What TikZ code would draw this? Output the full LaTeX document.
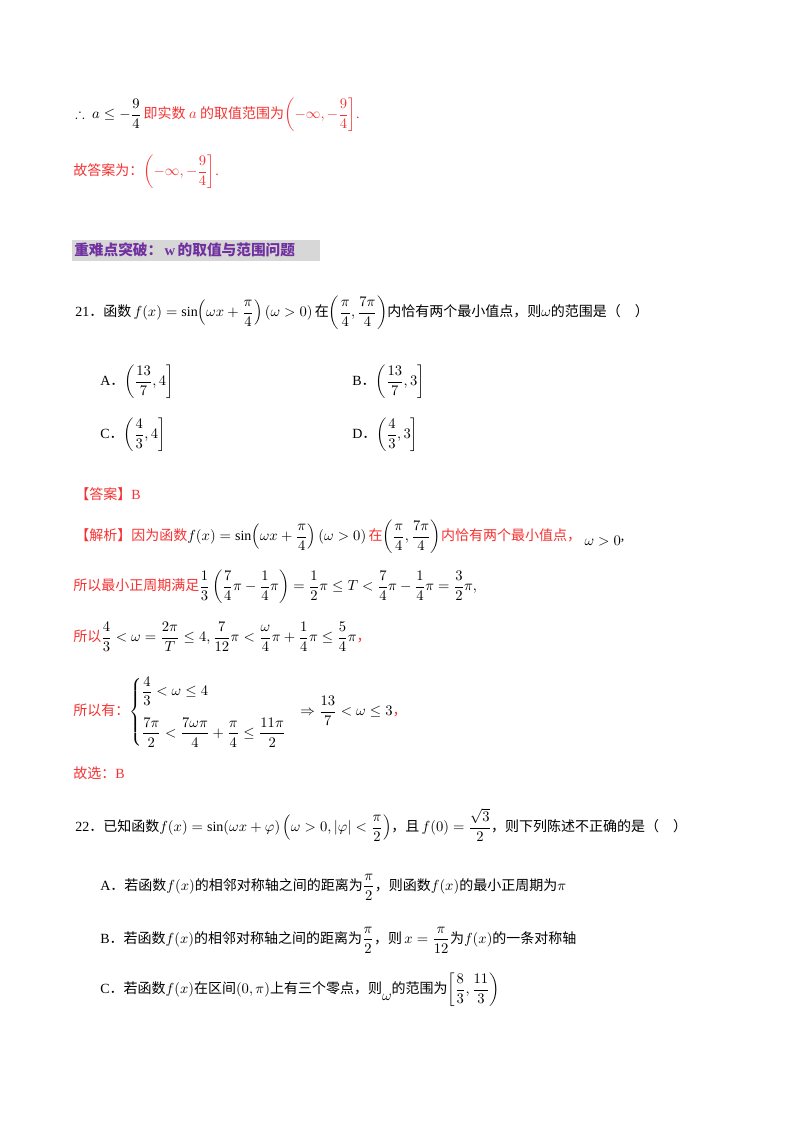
\documentclass[tikz,border=0pt]{standalone}
\usepackage{amsmath,amssymb}
\usepackage{fontspec}
\setmainfont{Liberation Serif}
\newfontfamily\zhf{Noto Sans CJK SC}
\newcommand{\zh}[1]{{\zhf #1}}
\definecolor{ans}{RGB}{245,50,50}
\definecolor{hd}{RGB}{112,48,160}
\definecolor{hdbg}{RGB}{215,215,215}
\tikzset{ln/.style={anchor=west,inner sep=0pt,font=\fontsize{10.5}{13}\selectfont}}
\begin{document}
\begin{tikzpicture}[x=0.75pt,y=-0.75pt]
\useasboundingbox[fill=white] (0,0) rectangle (800,1132);
\node[ln] (l1) at (75,115) {$\therefore\ a\le-\dfrac{9}{4}$\,\textcolor{ans}{\zh{即实数} $a$ \zh{的取值范围为}$\left(-\infty,-\dfrac94\right]$.}};
\node[ln,text=ans] (l2) at (73,172) {\zh{故答案为：}$\left(-\infty,-\dfrac94\right]$.};
\fill[hdbg] (72,240) rectangle (320,261);
\node[ln,text=hd,font=\fontsize{11}{13}\bfseries\selectfont] (hdr) at (74,250) {\zh{重难点突破：}\,w\,\zh{的取值与范围问题}};
\node[ln] (q21) at (75,313) {21\zh{．函数}\,$f(x)=\sin\!\left(\omega x+\dfrac{\pi}{4}\right)(\omega>0)$\,\zh{在}$\left(\dfrac{\pi}{4},\dfrac{7\pi}{4}\right)$\zh{内恰有两个最小值点，则}$\omega$\zh{的范围是（\quad ）}};
\node[ln] (a21) at (100,382) {A\zh{．}$\left(\dfrac{13}{7},4\right]$};
\node[ln] (b21) at (352,382) {B\zh{．}$\left(\dfrac{13}{7},3\right]$};
\node[ln] (c21) at (100,435) {C\zh{．}$\left(\dfrac{4}{3},4\right]$};
\node[ln] (d21) at (352,435) {D\zh{．}$\left(\dfrac{4}{3},3\right]$};
\node[ln,text=ans] (da) at (75,494) {\zh{【答案】}B};
\node[ln] (jx) at (75,537) {\textcolor{ans}{\zh{【解析】因为函数}}$f(x)=\sin\!\left(\omega x+\dfrac{\pi}{4}\right)(\omega>0)$\,\textcolor{ans}{\zh{在}}$\left(\dfrac{\pi}{4},\dfrac{7\pi}{4}\right)$\textcolor{ans}{\zh{内恰有两个最小值点，}}\ \raisebox{-4pt}{$\omega>0$},};
\node[ln] (s1) at (73,587) {\textcolor{ans}{\zh{所以最小正周期满足}}$\dfrac13\left(\dfrac74\pi-\dfrac14\pi\right)=\dfrac12\pi\le T<\dfrac74\pi-\dfrac14\pi=\dfrac32\pi,$};
\node[ln] (s2) at (73,637) {\textcolor{ans}{\zh{所以}}$\dfrac43<\omega=\dfrac{2\pi}{T}\le4,\dfrac{7}{12}\pi<\dfrac{\omega}{4}\pi+\dfrac14\pi\le\dfrac54\pi$\textcolor{ans}{\zh{，}}};
\node[ln] (s3) at (73,712) {\textcolor{ans}{\zh{所以有：}}$\begin{cases}\dfrac43<\omega\le4\\[12pt]\dfrac{7\pi}{2}<\dfrac{7\omega\pi}{4}+\dfrac{\pi}{4}\le\dfrac{11\pi}{2}\end{cases}\!\!\Rightarrow\dfrac{13}{7}<\omega\le3$\textcolor{ans}{\zh{，}}};
\node[ln,text=ans] (gx) at (73,773) {\zh{故选：}B};
\node[ln] (q22) at (75,825) {22\zh{．已知函数}$f(x)=\sin(\omega x+\varphi)\left(\omega>0,|\varphi|<\dfrac{\pi}{2}\right)$\zh{，且}\,$f(0)=\dfrac{\sqrt3}{2}$\zh{，则下列陈述不正确的是（\quad ）}};
\node[ln] (a22) at (100,887) {A\zh{．若函数}$f(x)$\zh{的相邻对称轴之间的距离为}$\dfrac{\pi}{2}$\zh{，则函数}$f(x)$\zh{的最小正周期为}$\pi$};
\node[ln] (b22) at (100,940) {B\zh{．若函数}$f(x)$\zh{的相邻对称轴之间的距离为}$\dfrac{\pi}{2}$\zh{，则}\,$x=\dfrac{\pi}{12}$\zh{为}$f(x)$\zh{的一条对称轴}};
\node[ln] (c22) at (100,990) {C\zh{．若函数}$f(x)$\zh{在区间}$(0,\pi)$\zh{上有三个零点，则}\raisebox{-5pt}{$\omega$}\zh{的范围为}$\left[\dfrac83,\dfrac{11}{3}\right)$};
\end{tikzpicture}
\end{document}
